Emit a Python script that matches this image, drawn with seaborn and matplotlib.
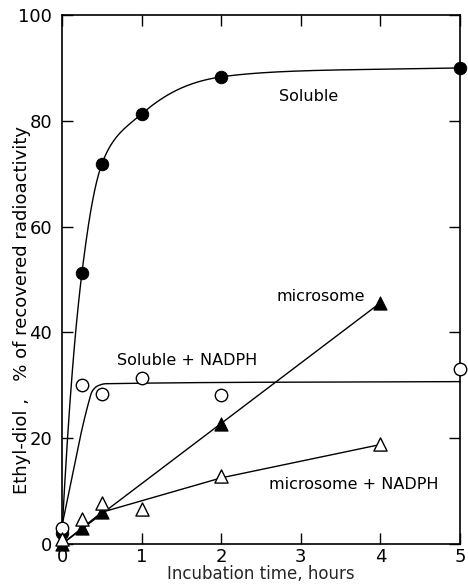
import numpy as np
import pandas as pd
import matplotlib
matplotlib.use("Agg")
import matplotlib.pyplot as plt
import seaborn as sns

# ---- data ----
sol_t = [0, 0.25, 0.5, 1, 2, 5]
sol_v = [2, 51.2, 71.8, 81.3, 88.3, 90.0]
sol_plateau = 91.0

solN_t = [0, 0.25, 0.5, 1, 2, 5]
solN_v = [3, 30.0, 28.4, 31.4, 28.2, 33.1]
solN_fit_t = [0, 0.33, 0.38, 0.45, 0.55, 5]
solN_fit_v = [3.5, 26.5, 28.9, 29.9, 30.3, 30.7]

mic_t = [0, 0.25, 0.5, 2, 4]
mic_v = [0, 3.0, 6.0, 22.7, 45.6]
mic_fit_t = [0, 4]
mic_fit_v = [0, 45.6]

micN_t = [0, 0.25, 0.5, 1, 2, 4]
micN_v = [1, 4.7, 7.7, 6.6, 12.9, 18.9]
micN_fit_t = [0, 0.5, 2, 4]
micN_fit_v = [0, 6.0, 12.5, 18.8]

x_ticks = [0, 1, 2, 3, 4, 5]
y_ticks = [0, 20, 40, 60, 80, 100]


def hermite(x, y, xs, mode="pchip"):
    x = np.asarray(x, float); y = np.asarray(y, float)
    h = np.diff(x); d = np.diff(y) / h
    n = len(x); m = np.zeros(n)
    for k in range(1, n - 1):
        if mode == "avg":
            m[k] = (d[k - 1] + d[k]) / 2
        elif d[k - 1] * d[k] > 0:
            w1 = 2 * h[k] + h[k - 1]; w2 = h[k] + 2 * h[k - 1]
            m[k] = (w1 + w2) / (w1 / d[k - 1] + w2 / d[k])
    m[0] = d[0]; m[-1] = d[-1]
    out = np.empty_like(xs)
    for i, xv in enumerate(xs):
        k = min(np.searchsorted(x, xv, side="right") - 1, n - 2)
        t = (xv - x[k]) / h[k]
        h00 = 2 * t**3 - 3 * t**2 + 1; h10 = t**3 - 2 * t**2 + t
        h01 = -2 * t**3 + 3 * t**2; h11 = t**3 - t**2
        out[i] = h00 * y[k] + h10 * h[k] * m[k] + h01 * y[k + 1] + h11 * h[k] * m[k + 1]
    return out


sns.set_theme(style="ticks")
plt.rcParams["font.family"] = ["DejaVu Sans"]

fig = plt.figure(figsize=(4.68, 5.84), dpi=100)
ax = fig.add_axes([62 / 468, 1 - 544 / 584, (460 - 62) / 468, (544 - 15) / 584])

lw = 1.0
# soluble: smooth saturating curve (interpolated in log-distance-to-plateau space)
xs = np.linspace(0, 5, 600)
logd = np.log(sol_plateau - np.asarray(sol_v))
sol_curve = sol_plateau - np.exp(hermite(sol_t, logd, xs, mode="avg"))
sns.lineplot(x=xs, y=sol_curve, ax=ax, color="black", lw=lw)
sns.scatterplot(x=sol_t, y=sol_v, ax=ax, marker="o", s=80, color="black",
                edgecolor="black", zorder=5)

# soluble + NADPH
xs2 = np.linspace(0, 5, 600)
solN_curve = hermite(solN_fit_t, solN_fit_v, xs2)
sns.lineplot(x=xs2, y=solN_curve, ax=ax, color="black", lw=lw)
sns.scatterplot(x=solN_t, y=solN_v, ax=ax, marker="o", s=80, facecolor="white",
                edgecolor="black", linewidth=1.0, zorder=5)

# microsome
sns.lineplot(x=mic_fit_t, y=mic_fit_v, ax=ax, color="black", lw=lw)
sns.scatterplot(x=mic_t, y=mic_v, ax=ax, marker="^", s=90, color="black",
                edgecolor="black", zorder=5)

# microsome + NADPH
sns.lineplot(x=micN_fit_t, y=micN_fit_v, ax=ax, color="black", lw=lw)
sns.scatterplot(x=micN_t, y=micN_v, ax=ax, marker="^", s=90, facecolor="white",
                edgecolor="black", linewidth=1.0, zorder=5)

ax.set_xlim(0, 5)
ax.set_ylim(0, 100)
ax.set_xticks(x_ticks)
ax.set_yticks(y_ticks)
ax.set_xticklabels([str(v) for v in x_ticks])
ax.set_yticklabels([str(v) for v in y_ticks])
ax.tick_params(direction="in", length=8, width=1, labelsize=13, colors="black",
               top=True, right=True)
ax.tick_params(axis="y", pad=7)
ax.tick_params(axis="x", pad=3)
for s in ax.spines.values():
    s.set_linewidth(1.2)
    s.set_color("black")
    s.set_visible(True)
for c in ax.collections:
    c.set_clip_on(False)
for l in ax.lines:
    l.set_clip_on(False)

txt = dict(fontsize=11.5, color="black", ha="center", va="center")
ax.text(3.1, 84.5, "Soluble", **txt)
ax.text(3.25, 46.8, "microsome", **txt)
ax.text(1.57, 34.6, "Soluble + NADPH", **txt)
ax.text(3.66, 11.3, "microsome + NADPH", **txt)

ax.set_xlabel("Incubation time, hours", fontsize=12, labelpad=-1)
ax.set_ylabel("")
fig.text(22 / 468, 1 - 310 / 584, "Ethyl-diol ,   % of recovered radioactivity",
         rotation=90, fontsize=13, ha="center", va="center", color="black")

fig.savefig("out.png", dpi=100, facecolor="white")
